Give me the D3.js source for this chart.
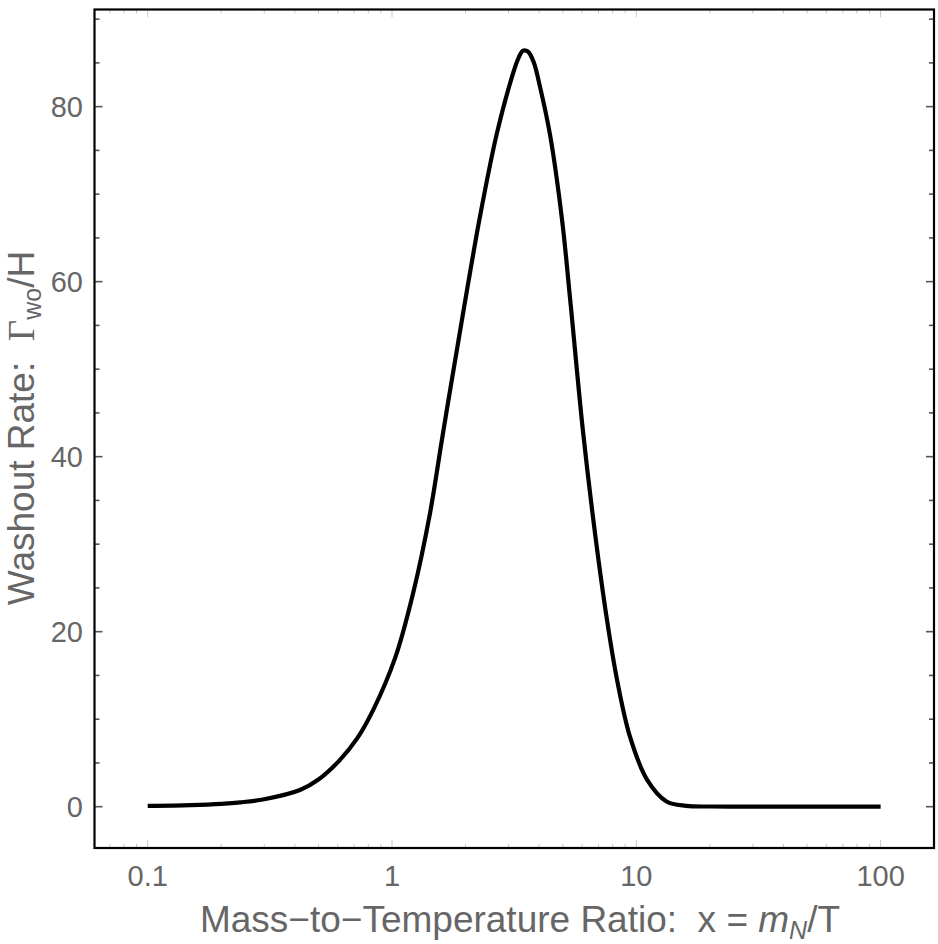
<!DOCTYPE html>
<html>
<head>
<meta charset="utf-8">
<script src="https://cdn.jsdelivr.net/npm/d3@7"></script>
<style>
  body { margin: 0; background: #fff; }
  text { font-family: "Liberation Sans", Arial, Helvetica, sans-serif; fill: #666; }
</style>
</head>
<body>
<svg id="chart"></svg>
<script>
// washout rate vs x = m_N/T
const ratio = [0.1, 0.15, 0.2, 0.24, 0.3, 0.42, 0.5, 0.61, 0.72, 0.836, 1.03, 1.22, 1.43, 1.6, 1.78, 2.01, 2.29, 2.69, 3.13, 3.3, 3.44,
               3.6, 3.8, 4.04, 4.44, 4.97, 5.36, 6.05, 6.78, 7.59, 8.34, 9.42, 11.06, 13.3, 16, 20, 30, 50, 100];
const rate = [0.1, 0.19, 0.33, 0.5, 0.85, 1.9, 3.1, 5.3, 7.8, 11.0, 17.0, 24.4, 33.5, 41.9, 49.7, 58.4, 67.4, 77.0, 83.8, 85.6, 86.4,
              86.3, 85.1, 82.2, 76.7, 67.0, 58.0, 42.9, 31.2, 21.3, 14.5, 8.0, 3.1, 0.6, 0.1, 0.02, 0, 0, 0];

const xTickVals = [0.1, 1, 10, 100];
const xTickLabels = ["0.1", "1", "10", "100"];
const yTickVals = [0, 20, 40, 60, 80];

const width = 938, height = 944;
const plotL = 94.5, plotR = 934, plotT = 9.5, plotB = 848;

const svg = d3.select('#chart').attr('width', width).attr('height', height);

const x = d3.scaleLog().domain([0.06057, 165.4]).range([plotL, plotR]);
const y = d3.scaleLinear().domain([-4.72, 91.1]).range([plotB, plotT]);

// minor tick positions
const xMinor = [];
[0.01, 0.1, 1, 10, 100].forEach(d => {
  for (let k = 2; k <= 9; k++) {
    const v = d * k;
    if (v > x.domain()[0] && v < x.domain()[1]) xMinor.push(v);
  }
});
const yMinor = d3.range(0, 95, 5).filter(v => v % 20 !== 0);

// left and right ticks
const ticks = svg.append('g').attr('stroke', '#555').attr('stroke-width', 1.6);
yTickVals.forEach(v => {
  ticks.append('line').attr('x1', plotL).attr('x2', plotL + 8).attr('y1', y(v)).attr('y2', y(v));
  ticks.append('line').attr('x1', plotR).attr('x2', plotR - 8).attr('y1', y(v)).attr('y2', y(v));
});
yMinor.forEach(v => {
  ticks.append('line').attr('x1', plotL).attr('x2', plotL + 5).attr('y1', y(v)).attr('y2', y(v));
  ticks.append('line').attr('x1', plotR).attr('x2', plotR - 5).attr('y1', y(v)).attr('y2', y(v));
});

// top and bottom ticks (faint)
const xticks = svg.append('g').attr('stroke', '#c8c8c8').attr('stroke-width', 1);
xTickVals.forEach(v => {
  xticks.append('line').attr('x1', x(v)).attr('x2', x(v)).attr('y1', plotB).attr('y2', plotB - 8);
  xticks.append('line').attr('x1', x(v)).attr('x2', x(v)).attr('y1', plotT).attr('y2', plotT + 8);
});
xMinor.forEach(v => {
  xticks.append('line').attr('x1', x(v)).attr('x2', x(v)).attr('y1', plotB).attr('y2', plotB - 4);
  xticks.append('line').attr('x1', x(v)).attr('x2', x(v)).attr('y1', plotT).attr('y2', plotT + 4);
});

// frame
svg.append('rect')
  .attr('x', plotL).attr('y', plotT)
  .attr('width', plotR - plotL).attr('height', plotB - plotT)
  .attr('fill', 'none').attr('stroke', '#000').attr('stroke-width', 2.2);

// tick labels
svg.selectAll('.ylab').data(yTickVals).enter().append('text')
  .attr('x', 83).attr('y', d => y(d)).attr('dy', '0.35em')
  .attr('text-anchor', 'end').attr('font-size', 29)
  .text(d => d);

svg.selectAll('.xlab').data(xTickVals).enter().append('text')
  .attr('x', d => x(d)).attr('y', 886)
  .attr('text-anchor', 'middle').attr('font-size', 29)
  .text((d, i) => xTickLabels[i]);

// curve
const line = d3.line()
  .x((d, i) => x(ratio[i]))
  .y(d => y(d))
  .curve(d3.curveCatmullRom.alpha(0.5));

svg.append('path')
  .attr('d', line(rate))
  .attr('fill', 'none').attr('stroke', '#000').attr('stroke-width', 4.2)
  .attr('stroke-linejoin', 'round');

// axis titles
const xt = svg.append('text')
  .attr('x', 520).attr('y', 932)
  .attr('text-anchor', 'middle').attr('font-size', 37);
xt.append('tspan').text('Mass\u2212to\u2212Temperature Ratio:\u00a0\u00a0x = ');
xt.append('tspan').attr('font-style', 'italic').text('m');
xt.append('tspan').attr('font-style', 'italic').attr('font-size', 25).attr('dy', 7).text('N');
xt.append('tspan').attr('dy', -7).text('/T');

const yt = svg.append('text')
  .attr('transform', 'translate(34,428) rotate(-90)')
  .attr('text-anchor', 'middle').attr('font-size', 37);
yt.append('tspan').text('Washout Rate:\u00a0\u00a0');
yt.append('tspan').attr('font-family', '"Liberation Serif", "DejaVu Serif", serif').text('\u0393');
yt.append('tspan').attr('font-size', 25).attr('dy', 7).text('wo');
yt.append('tspan').attr('dy', -7).text('/H');
</script>
</body>
</html>
